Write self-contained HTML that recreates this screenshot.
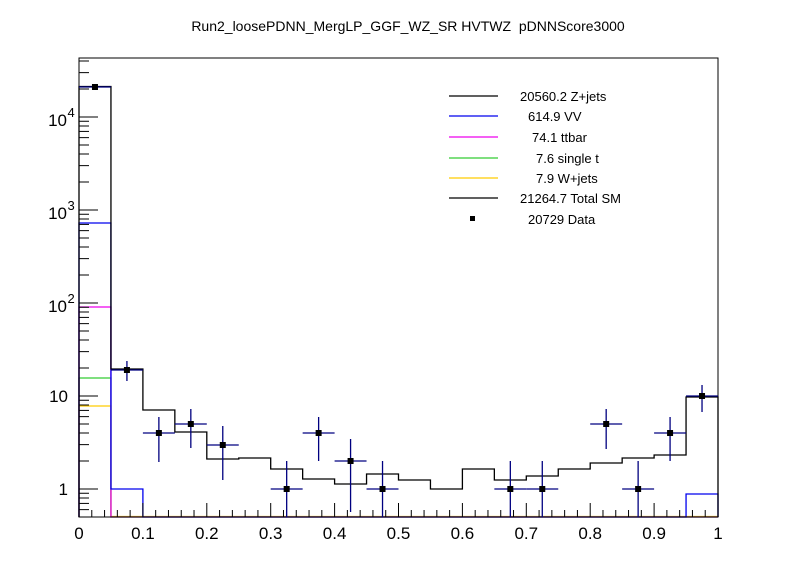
<!DOCTYPE html>
<html><head><meta charset="utf-8"><style>body{margin:0;background:#fff}svg{display:block}</style></head><body>
<svg id="s" width="798" height="575" xmlns="http://www.w3.org/2000/svg" font-family="Liberation Sans, sans-serif">
<rect width="798" height="575" fill="#fff"/>
<text x="408" y="31" font-size="14" text-anchor="middle">Run2_loosePDNN_MergLP_GGF_WZ_SR HVTWZ&#160; pDNNScore3000</text>
<g id="g"></g>
</svg>
<script>
const g=document.getElementById('g');const NS='http://www.w3.org/2000/svg';
function el(t,a,txt){const e=document.createElementNS(NS,t);for(const k in a)e.setAttribute(k,a[k]);if(txt!==undefined)e.textContent=txt;g.appendChild(e);return e;}
const X0=79,X1=718,Y0=58,Y1=517,bw=(X1-X0)/20;
function step(ys,col){let d='';ys.forEach((y,i)=>{const xa=X0+i*bw,xb=X0+(i+1)*bw;d+=(i==0?'M'+xa+' '+Y1+' L':' L')+xa+' '+y+' L'+xb+' '+y;});d+=' L'+X1+' '+Y1;el('path',{d:d,fill:'none',stroke:col,'stroke-width':1.3});}
const B=Y1;
step([406].concat(Array(19).fill(B-0.5)),'#ffcc00');
step([378].concat(Array(19).fill(B)),'#33cc33');
step([307].concat(Array(19).fill(B)),'#ee00ee');
step([223,489,B,B,B,B,B,B,B,B,B,B,B,B,B,B,B,B,B,494],'#0000ee');
step([86.5,369,410,432,459,458,469,479,484,474,480,489,469,480,476,469,463,458,455,397],'#000');
el('rect',{x:X0,y:Y0,width:X1-X0,height:Y1-Y0,fill:'none',stroke:'#000','stroke-width':1});
for(let k=0;k<=50;k++){const x=X0+k*(X1-X0)/50;const L=k%5==0?14:7;el('line',{x1:x,y1:Y1,x2:x,y2:Y1-L,stroke:'#000'});}
['0','0.1','0.2','0.3','0.4','0.5','0.6','0.7','0.8','0.9','1'].forEach((t,i)=>el('text',{x:X0+i*(X1-X0)/10,y:539,'font-size':17,'text-anchor':'middle'},t));
const yv=v=>489-93*Math.log10(v);
for(let e=-1;e<=4;e++)for(let m=1;m<=9;m++){const v=m*Math.pow(10,e);const y=yv(v);if(y<Y0||y>Y1)continue;el('line',{x1:X0,y1:y,x2:X0+(m==1?19:10),y2:y,stroke:'#000'});}
el('text',{x:68,y:495,'font-size':17,'text-anchor':'end'},'1');
el('text',{x:68,y:402,'font-size':17,'text-anchor':'end'},'10');
[[2,309],[3,216],[4,123]].forEach(([p,y])=>{el('text',{x:67,y:y+3,'font-size':17,'text-anchor':'end'},'10');el('text',{x:67.5,y:y-6,'font-size':13},''+p);});
const D=[[0,87,84,90],[1,370,361,381],[2,433,417,462],[3,424,409,448],[4,445,426,480],[6,489,461,517],[7,433,417,461],[8,461,439,512],[9,489,461,517],[13,489,461,517],[14,489,461,517],[16,424,409,449],[17,489,461,517],[18,433,417,461],[19,396,385,412]];
D.forEach(([i,y,u,d])=>{const x=X0+(i+0.5)*bw;el('line',{x1:X0+i*bw,y1:y,x2:X0+(i+1)*bw,y2:y,stroke:'#000080','stroke-width':1.3});el('line',{x1:x,y1:u,x2:x,y2:d,stroke:'#000080','stroke-width':1.3});el('rect',{x:x-3,y:y-3,width:6,height:6,fill:'#000'});});
const L=[['#000','20560.2 Z+jets',520,96],['#0000ee','614.9 VV',528,116],['#ee00ee','74.1 ttbar',532,137],['#33cc33','7.6 single t',536,158],['#ffcc00','7.9 W+jets',536,178],['#000','21264.7 Total SM',520,198]];
L.forEach(([c,t,x,y])=>{el('line',{x1:449,y1:y,x2:498,y2:y,stroke:c,'stroke-width':1.3});el('text',{x:x,y:y+5,'font-size':13},t);});
el('rect',{x:470,y:216,width:5,height:5,fill:'#000'});
el('text',{x:528,y:224,'font-size':13},'20729 Data');
</script>
</body></html>
